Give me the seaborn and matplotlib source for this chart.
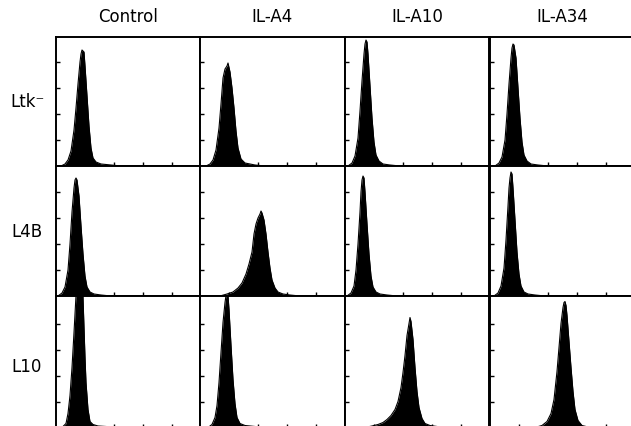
import matplotlib
matplotlib.use("Agg")
import matplotlib.pyplot as plt
import seaborn as sns
import pandas as pd

# ---- data (x: fluorescence channel, y: cell count) ----
columns = ["Control", "IL-A4", "IL-A10", "IL-A34"]
rows = ["Ltk\u207b", "L4B", "L10"]

# Row Ltk-
ltk_control_x = [5, 9, 12, 15, 18, 20, 22, 24, 25, 26, 28, 29, 31, 33, 35, 37, 40, 45, 55, 65]
ltk_control_y = [0, 2, 6, 15, 36, 58, 82, 104, 112, 116, 114, 100, 70, 40, 18, 8, 4, 2, 1, 0]
ltk_a4_x = [6, 10, 13, 16, 19, 21, 23, 25, 27, 28, 30, 32, 34, 36, 38, 41, 45, 55, 65]
ltk_a4_y = [0, 2, 6, 16, 38, 62, 88, 97, 100, 103, 94, 78, 58, 35, 18, 7, 3, 1, 0]
ltk_a10_x = [3, 7, 10, 13, 15, 17, 19, 20, 21, 22, 23, 25, 27, 29, 31, 34, 38, 45, 55]
ltk_a10_y = [0, 3, 10, 28, 55, 85, 112, 122, 126, 124, 112, 80, 48, 24, 11, 5, 2, 1, 0]
ltk_a34_x = [5, 9, 12, 15, 17, 19, 21, 22, 23, 24, 26, 28, 30, 32, 34, 37, 41, 48, 58]
ltk_a34_y = [0, 3, 9, 26, 52, 82, 108, 118, 122, 121, 108, 78, 48, 24, 11, 5, 2, 1, 0]

# Row L4B
l4b_control_x = [2, 6, 9, 12, 14, 16, 18, 19, 20, 21, 23, 25, 27, 29, 31, 34, 38, 45, 55]
l4b_control_y = [0, 3, 9, 26, 52, 84, 108, 116, 118, 116, 100, 70, 42, 20, 9, 4, 2, 1, 0]
l4b_a4_x = [20, 27, 33, 38, 42, 46, 49, 52, 54, 56, 58, 60, 61, 62, 64, 66, 68, 70, 72, 75, 78, 83, 90, 100]
l4b_a4_y = [0, 2, 4, 8, 13, 22, 32, 44, 62, 72, 78, 82, 85, 83, 76, 62, 44, 28, 16, 8, 4, 2, 1, 0]
l4b_a10_x = [2, 6, 9, 11, 13, 15, 16, 17, 18, 19, 20, 22, 24, 26, 28, 31, 35, 42, 52]
l4b_a10_y = [0, 3, 10, 26, 52, 84, 104, 116, 120, 118, 104, 72, 42, 20, 9, 4, 2, 1, 0]
l4b_a34_x = [4, 8, 11, 14, 16, 18, 19, 20, 21, 22, 23, 25, 27, 29, 31, 34, 38, 45, 55]
l4b_a34_y = [0, 3, 10, 28, 56, 90, 108, 118, 124, 122, 108, 76, 44, 22, 10, 4, 2, 1, 0]

# Row L10
l10_control_x = [6, 10, 12, 14, 16, 18, 20, 22, 24, 26, 27, 28, 29, 30, 32, 34, 37, 42, 50, 60]
l10_control_y = [0, 4, 14, 32, 60, 95, 132, 170, 185, 160, 130, 100, 70, 45, 18, 6, 3, 1.5, 1, 0]
l10_a4_x = [8, 12, 15, 17, 19, 21, 23, 25, 26, 27, 28, 29, 31, 33, 35, 37, 40, 45, 55, 65]
l10_a4_y = [0, 3, 10, 22, 45, 75, 105, 125, 132, 135, 132, 118, 82, 48, 24, 10, 4, 2, 1, 0]
l10_a10_x = [20, 27, 33, 38, 42, 46, 50, 53, 56, 58, 60, 62, 64, 65, 66, 68, 70, 72, 74, 77, 80, 85, 92, 100]
l10_a10_y = [0, 1.5, 3, 5, 8, 12, 18, 26, 40, 55, 72, 92, 104, 110, 106, 88, 60, 36, 20, 9, 4, 2, 1, 0]
l10_a34_x = [45, 52, 57, 61, 64, 67, 69, 71, 73, 74, 75, 76, 77, 79, 81, 83, 85, 88, 92, 100]
l10_a34_y = [0, 2, 6, 14, 28, 56, 80, 104, 120, 125, 126, 122, 112, 86, 60, 36, 18, 7, 2, 0]

panels = [
    [(ltk_control_x, ltk_control_y), (ltk_a4_x, ltk_a4_y), (ltk_a10_x, ltk_a10_y), (ltk_a34_x, ltk_a34_y)],
    [(l4b_control_x, l4b_control_y), (l4b_a4_x, l4b_a4_y), (l4b_a10_x, l4b_a10_y), (l4b_a34_x, l4b_a34_y)],
    [(l10_control_x, l10_control_y), (l10_a4_x, l10_a4_y), (l10_a10_x, l10_a10_y), (l10_a34_x, l10_a34_y)],
]

x_max = 144.5
x_ticks = [28.9, 57.8, 86.7, 115.6]
y_ticks = [26, 52, 78, 104]

# ---- figure ----
sns.set_theme(style="white")
plt.rcParams["font.family"] = ["DejaVu Sans"]
W, H = 631, 426
fig = plt.figure(figsize=(W / 100, H / 100), dpi=100)
fig.patch.set_facecolor("white")

col_left = [56, 200, 345, 490]
row_top = [37, 166, 296]
row_h = [129, 130, 131.5]
pw = 144.5

for r in range(3):
    ph = row_h[r]
    for c in range(4):
        left = col_left[c] / W
        bottom = 1 - (row_top[r] + ph) / H
        ax = fig.add_axes([left, bottom, pw / W, ph / H])
        xs, ys = panels[r][c]
        df = pd.DataFrame({"channel": xs, "count": ys})
        sns.lineplot(data=df, x="channel", y="count", color="black", lw=0.8,
                     estimator=None, sort=False, ax=ax)
        ax.fill_between(df["channel"], df["count"], 0, color="black", lw=0)
        ax.set_xlim(0, x_max)
        ax.set_ylim(0, ph)
        ax.set_xticks(x_ticks)
        ax.set_yticks(y_ticks)
        ax.set_xticklabels([])
        ax.set_yticklabels([])
        ax.set_xlabel("")
        ax.set_ylabel("")
        ax.tick_params(direction="in", length=3, width=1, color="black",
                       bottom=True, left=True, top=False, right=False)
        for s in ax.spines.values():
            s.set_color("black")
            s.set_linewidth(1.4)
        ax.set_facecolor("white")

for c, name in enumerate(columns):
    cx = (col_left[c] + pw / 2) / W
    fig.text(cx, 1 - 17 / H, name, ha="center", va="center", fontsize=12, color="black")

row_label_y = [102, 232, 367]
for r, name in enumerate(rows):
    fig.text(27 / W, 1 - row_label_y[r] / H, name, ha="center", va="center",
             fontsize=12, color="black")

fig.savefig("out.png", dpi=100, facecolor="white")
